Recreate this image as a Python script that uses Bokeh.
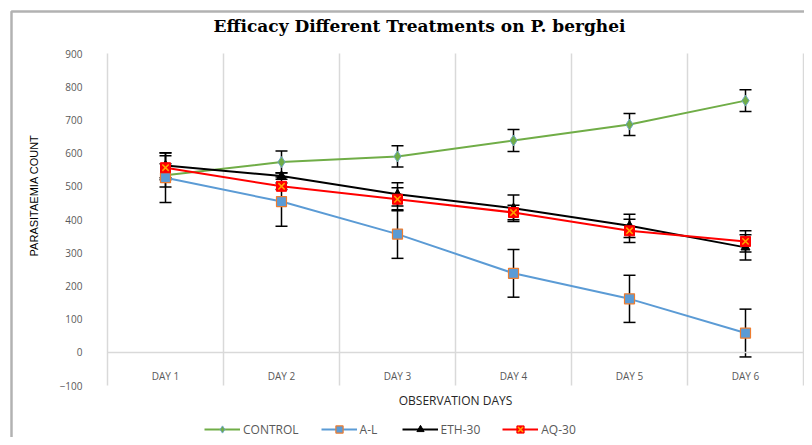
import math
from bokeh.plotting import figure
from bokeh.models import (ColumnDataSource, Whisker, TeeHead, FixedTicker, Legend,
                          LegendItem, Label, BoxAnnotation)
from bokeh.embed import file_html
from bokeh.resources import INLINE

days = ["DAY 1", "DAY 2", "DAY 3", "DAY 4", "DAY 5", "DAY 6"]
control = [533, 573, 590, 638, 686, 758]
control_err = [35, 33, 32, 33, 33, 33]
al = [526, 454, 356, 238, 161, 58]
al_err = [75, 74, 73, 72, 71, 72]
eth = [563, 531, 476, 434, 381, 316]
eth_err = [37, 10, 35, 40, 35, 38]
aq = [556, 500, 461, 421, 366, 334]
aq_err = [36, 10, 35, 22, 35, 32]
y_ticks = list(range(-100, 901, 100))

xs = list(range(1, len(days) + 1))
bounds = [i + 0.5 for i in range(len(days) + 1)]

W, H = 804, 437
# plot area in pixels: x 107..803, y 53..385 (from the top)
px_per_x = (803 - 107) / (bounds[-1] - bounds[0])
px_per_y = (385 - 53) / (y_ticks[-1] - y_ticks[0])
x_start = bounds[0] - 107 / px_per_x
x_end = bounds[-1] + (W - 803) / px_per_x
y_end = y_ticks[-1] + 53 / px_per_y
y_start = y_ticks[0] - (H - 385) / px_per_y

p = figure(width=W, height=H, x_range=(x_start, x_end), y_range=(y_start, y_end),
           output_backend="svg", toolbar_location=None,
           min_border_left=0, min_border_right=0, min_border_top=0, min_border_bottom=0)
p.title.text = ""
p.title.visible = False
p.outline_line_color = None
p.background_fill_color = "white"
p.border_fill_color = "white"
p.xgrid.grid_line_color = None
p.ygrid.grid_line_color = None

# category boundaries (vertical grid lines)
p.segment(x0=bounds, y0=[y_ticks[0]] * len(bounds), x1=bounds, y1=[y_ticks[-1]] * len(bounds),
          line_color="#d9d9d9", line_width=1.5)

# category axis at y = 0
p.xaxis.ticker = FixedTicker(ticks=xs)
p.xaxis.major_label_overrides = {x: d for x, d in zip(xs, days)}
p.xaxis.fixed_location = 0
p.xaxis.bounds = (bounds[0], bounds[-1])
p.xaxis.axis_line_color = "#d9d9d9"
p.xaxis.axis_line_width = 1.5
p.xaxis.major_tick_line_color = None
p.xaxis.minor_tick_line_color = None
p.xaxis.major_label_standoff = 11
p.xaxis.major_label_text_font = "Open Sans"
p.xaxis.major_label_text_font_size = "10px"
p.xaxis.major_label_text_color = "#595959"

# value axis at the left boundary
p.yaxis.ticker = FixedTicker(ticks=y_ticks)
p.yaxis.fixed_location = bounds[0]
p.yaxis.axis_line_color = None
p.yaxis.major_tick_line_color = None
p.yaxis.minor_tick_line_color = None
p.yaxis.major_label_standoff = 19
p.yaxis.major_label_text_font = "Open Sans"
p.yaxis.major_label_text_font_size = "10px"
p.yaxis.major_label_text_color = "#595959"


def src(vals, err):
    return ColumnDataSource(dict(x=xs, y=vals,
                                 upper=[v + e for v, e in zip(vals, err)],
                                 lower=[v - e for v, e in zip(vals, err)]))


s_c = src(control, control_err)
s_a = src(al, al_err)
s_e = src(eth, eth_err)
s_q = src(aq, aq_err)

l_c = p.line("x", "y", source=s_c, line_color="#70ad47", line_width=2)
l_a = p.line("x", "y", source=s_a, line_color="#5b9bd5", line_width=2)
l_e = p.line("x", "y", source=s_e, line_color="#000000", line_width=2)
l_q = p.line("x", "y", source=s_q, line_color="#ff0000", line_width=2)

for s in (s_c, s_a, s_e, s_q):
    w = Whisker(source=s, base="x", upper="upper", lower="lower",
                line_color="black", line_width=1.5,
                upper_head=TeeHead(size=12, line_color="black", line_width=1.5),
                lower_head=TeeHead(size=12, line_color="black", line_width=1.5))
    p.add_layout(w)

m_c = p.scatter("x", "y", source=s_c, marker="diamond", size=11,
                fill_color="#70ad47", line_color="#6fa8c0", line_width=1)
m_a = p.scatter("x", "y", source=s_a, marker="square", size=10,
                fill_color="#5b9bd5", line_color="#ed7d31", line_width=1.2)
m_e = p.scatter("x", "y", source=s_e, marker="triangle", size=9,
                fill_color="#000000", line_color="#000000")
m_q = p.scatter("x", "y", source=s_q, marker="square", size=10,
                fill_color="#ff0000", line_color="#ff0000")
m_q2 = p.scatter("x", "y", source=s_q, marker="x", size=9,
                 line_color="#ffa500", line_width=1.5)

# texts (screen units: from the plot's bottom-left corner)
p.add_layout(Label(x=419, y=H - 25, x_units="screen", y_units="screen",
                   text="Efficacy Different Treatments on P. berghei",
                   text_font="DejaVu Serif", text_font_style="bold", text_font_size="17px",
                   text_color="#000000", text_align="center", text_baseline="middle"))
p.add_layout(Label(x=33, y=H - 195, x_units="screen", y_units="screen",
                   text="PARASITAEMIA COUNT", angle=math.pi / 2,
                   text_font="Liberation Sans", text_font_size="11px",
                   text_color="#000000", text_align="center", text_baseline="middle"))
p.add_layout(Label(x=455, y=H - 400, x_units="screen", y_units="screen",
                   text="OBSERVATION DAYS",
                   text_font="Open Sans", text_font_size="12px",
                   text_color="#262626", text_align="center", text_baseline="middle"))

legend = Legend(items=[
    LegendItem(label="CONTROL", renderers=[l_c, m_c]),
    LegendItem(label="A-L", renderers=[l_a, m_a]),
    LegendItem(label="ETH-30", renderers=[l_e, m_e]),
    LegendItem(label="AQ-30", renderers=[l_q, m_q, m_q2]),
], orientation="horizontal", location=(204, H - 438))
legend.background_fill_alpha = 0
legend.border_line_color = None
legend.padding = 0
legend.margin = 0
legend.spacing = 22
legend.glyph_width = 36
legend.glyph_height = 18
legend.label_standoff = 3
legend.label_text_font = "Open Sans"
legend.label_text_font_size = "12px"
legend.label_text_color = "#595959"
p.add_layout(legend, "center")

# outer frame line (left and top edges)
p.add_layout(BoxAnnotation(left=11, right=W + 50, top=H - 11, bottom=-50,
                           left_units="screen", right_units="screen",
                           top_units="screen", bottom_units="screen",
                           fill_alpha=0, line_color="black", line_width=2.5))

open("out.html", "w").write(file_html(p, INLINE))
